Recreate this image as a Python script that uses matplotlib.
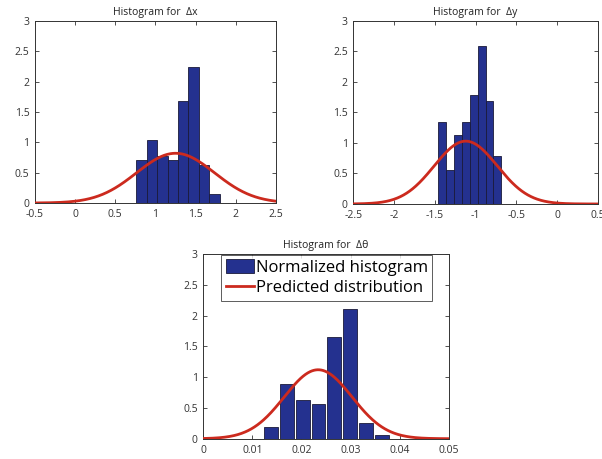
import numpy as np
import matplotlib
matplotlib.use("Agg")
import matplotlib.pyplot as plt

# ---- data ----
dx_centers = [0.825, 0.955, 1.085, 1.215, 1.345, 1.475, 1.605, 1.735]
dx_heights = [0.71, 1.04, 0.77, 0.71, 1.68, 2.24, 0.63, 0.15]
dx_mu, dx_sigma, dx_amp = 1.25, 0.486, 0.82

dy_centers = [-1.407, -1.311, -1.214, -1.118, -1.021, -0.925, -0.829, -0.732]
dy_heights = [1.35, 0.56, 1.13, 1.35, 1.79, 2.59, 1.69, 0.79]
dy_mu, dy_sigma, dy_amp = -1.12, 0.387, 1.03

dt_centers = [0.01382, 0.01704, 0.02026, 0.02348, 0.0267, 0.02992, 0.03314, 0.03636]
dt_heights = [0.19, 0.89, 0.63, 0.57, 1.66, 2.10, 0.25, 0.06]
dt_mu, dt_sigma, dt_amp = 0.0234, 0.0069, 1.12

titles = ["Histogram for  \u0394x", "Histogram for  \u0394y", "Histogram for  \u0394\u03b8"]
dx_xticks = [-0.5, 0, 0.5, 1, 1.5, 2, 2.5]
dy_xticks = [-2.5, -2, -1.5, -1, -0.5, 0, 0.5]
dt_xticks = [0, 0.01, 0.02, 0.03, 0.04, 0.05]
yticks = [0, 0.5, 1, 1.5, 2, 2.5, 3]
legend_labels = ["Normalized histogram", "Predicted distribution"]

BAR = "#24318f"
RED = "#cc2a1e"

plt.rcParams['font.family'] = ['Open Sans', 'DejaVu Sans']

fig = plt.figure(figsize=(6.02, 4.59), dpi=100)
ax1 = fig.add_axes([0.0581, 0.5577, 0.4003, 0.3965])
ax2 = fig.add_axes([0.5869, 0.5556, 0.4060, 0.3987])
ax3 = fig.add_axes([0.3377, 0.0442, 0.4076, 0.4024])

def tick_label(v):
    return "%g" % v

specs = [
    (ax1, dx_centers, dx_heights, 0.13, dx_mu, dx_sigma, dx_amp, dx_xticks, (-0.5, 2.5), titles[0]),
    (ax2, dy_centers, dy_heights, 0.0964, dy_mu, dy_sigma, dy_amp, dy_xticks, (-2.5, 0.5), titles[1]),
    (ax3, dt_centers, dt_heights, 0.0028, dt_mu, dt_sigma, dt_amp, dt_xticks, (0, 0.05), titles[2]),
]

handles = None
for ax, cen, hts, w, mu, sg, amp, xt, xl, tt in specs:
    b = ax.bar(cen, hts, width=w, color=BAR, edgecolor="#1a1a3a", linewidth=0.6, zorder=2)
    xs = np.linspace(xl[0], xl[1], 400)
    l, = ax.plot(xs, amp * np.exp(-0.5 * ((xs - mu) / sg) ** 2), color=RED, lw=2.0, zorder=3)
    ax.set_xlim(*xl)
    ax.set_ylim(0, 3)
    ax.set_xticks(xt)
    ax.set_xticklabels([tick_label(v) for v in xt])
    ax.set_yticks(yticks)
    ax.set_yticklabels([tick_label(v) for v in yticks])
    ax.tick_params(direction="in", top=True, right=True, length=3, width=0.6,
                   labelsize=7.5, colors="#333333")
    ax.tick_params(axis="x", pad=4.5)
    ax.tick_params(axis="y", pad=4)
    for s in ax.spines.values():
        s.set_linewidth(0.7)
        s.set_color("#333333")
    ax.set_title(tt, fontsize=7.5, pad=4, color="#222222")
    handles = (b, l)

leg = ax3.legend(handles, legend_labels, loc="upper left", bbox_to_anchor=(0.072, 0.997),
                 borderaxespad=0, fontsize=12, frameon=True, fancybox=False,
                 handlelength=1.7, handleheight=0.9, handletextpad=0.1,
                 borderpad=0.28, labelspacing=0.22)
leg.get_frame().set_edgecolor("#333333")
leg.get_frame().set_linewidth(0.7)

fig.savefig("out.png", dpi=100)
